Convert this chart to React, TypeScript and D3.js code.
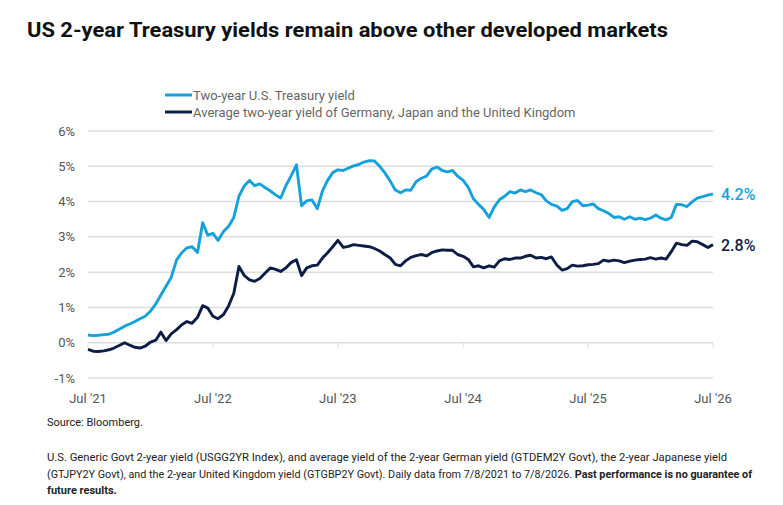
import * as d3 from 'd3'

const W = 783
const H = 505
const margin = { top: 131, right: 70, bottom: 127, left: 88 }
const innerW = W - margin.left - margin.right
const innerH = H - margin.top - margin.bottom

const startDate = new Date(2021, 6, 8)
const endDate = new Date(2026, 6, 8)

// semi-monthly readings, 7/8/2021 .. 7/8/2026
const usYield = [
  0.22, 0.2, 0.21, 0.23, 0.24, 0.3, 0.38, 0.47, 0.53, 0.6,
  0.68, 0.75, 0.9, 1.1, 1.35, 1.6, 1.85, 2.35, 2.55, 2.69,
  2.72, 2.56, 3.4, 3.05, 3.1, 2.9, 3.15, 3.3, 3.55, 4.15,
  4.45, 4.6, 4.45, 4.5, 4.4, 4.3, 4.19, 4.1, 4.45, 4.72,
  5.04, 3.88, 4.02, 4.05, 3.8, 4.3, 4.6, 4.82, 4.9, 4.88,
  4.95, 5.01, 5.05, 5.12, 5.16, 5.15, 5.0, 4.82, 4.58, 4.33,
  4.25, 4.33, 4.32, 4.57, 4.66, 4.72, 4.92, 4.98, 4.88, 4.84,
  4.88, 4.72, 4.6, 4.4, 4.08, 3.92, 3.78, 3.55, 3.85, 4.05,
  4.15, 4.28, 4.24, 4.33, 4.28, 4.33, 4.25, 4.2, 4.02, 3.92,
  3.87, 3.75, 3.8, 4.0, 4.03, 3.88, 3.9, 3.93, 3.8, 3.74,
  3.66, 3.55, 3.57, 3.5, 3.57, 3.5, 3.53, 3.49, 3.53, 3.62,
  3.53, 3.48, 3.55, 3.92, 3.91, 3.86, 3.99, 4.1, 4.14, 4.18,
  4.22,
]

const avgYield = [
  -0.19, -0.24, -0.25, -0.23, -0.2, -0.15, -0.08, 0.0, -0.07, -0.13,
  -0.15, -0.1, 0.02, 0.07, 0.3, 0.06, 0.25, 0.37, 0.51, 0.6,
  0.55, 0.72, 1.05, 0.98, 0.75, 0.68, 0.8, 1.05, 1.4, 2.16,
  1.9, 1.78, 1.74, 1.82, 1.97, 2.12, 2.08, 2.02, 2.12, 2.27,
  2.35, 1.9, 2.12, 2.18, 2.2, 2.4, 2.55, 2.72, 2.9, 2.7,
  2.73, 2.78, 2.76, 2.74, 2.72, 2.67, 2.6, 2.5, 2.4, 2.22,
  2.18, 2.32, 2.42, 2.47, 2.5, 2.46, 2.55, 2.6, 2.63, 2.62,
  2.62, 2.5, 2.45, 2.36, 2.15, 2.18, 2.12, 2.18, 2.14, 2.32,
  2.38, 2.36, 2.4, 2.4, 2.45, 2.48, 2.4, 2.42, 2.38, 2.43,
  2.2, 2.06, 2.1, 2.2, 2.17, 2.18, 2.21, 2.22, 2.24, 2.34,
  2.31, 2.34, 2.32, 2.27, 2.31, 2.34, 2.36, 2.37, 2.41, 2.37,
  2.4, 2.37, 2.58, 2.82, 2.78, 2.76, 2.88, 2.86, 2.78, 2.7,
  2.78,
]

const yTicks = [-1, 0, 1, 2, 3, 4, 5, 6]
const xTickYears = [2021, 2022, 2023, 2024, 2025, 2026]
const xTickLabels = ["Jul '21", "Jul '22", "Jul '23", "Jul '24", "Jul '25", "Jul '26"]
const seriesNames = [
  'Two-year U.S. Treasury yield',
  'Average two-year yield of Germany, Japan and the United Kingdom',
]
const endLabels = ['4.2%', '2.8%']
const colors = ['#16a1dc', '#0d1d45']

const span = d3.timeDay.count(startDate, endDate)
const dates = usYield.map((_, i) =>
  d3.timeDay.offset(startDate, Math.round((i * span) / (usYield.length - 1)))
)

const x = d3.scaleTime().domain([startDate, endDate]).range([0, innerW])
const y = d3.scaleLinear().domain([-1, 6]).range([innerH, 0])

const line = d3
  .line<number>()
  .x((_, i) => x(dates[i]))
  .y((d) => y(d))

const font = 'Roboto, "Liberation Sans", sans-serif'

export default function App() {
  const series = [usYield, avgYield]
  return (
    <svg
      width={W}
      height={H}
      style={{ position: 'absolute', left: 0, top: 0, background: '#fff' }}
      fontFamily={font}
    >
      <text x={27} y={37} fontSize={20} fontWeight={700} fill="#111" textLength={641} lengthAdjust="spacingAndGlyphs">
        US 2-year Treasury yields remain above other developed markets
      </text>

      {seriesNames.map((name, i) => (
        <g key={name} transform={`translate(165, ${95 + i * 17})`}>
          <line x1={0} x2={27} y1={0} y2={0} stroke={colors[i]} strokeWidth={3} />
          <text x={28} y={4.5} fontSize={13} fill="#666">
            {name}
          </text>
        </g>
      ))}

      <g transform={`translate(${margin.left}, ${margin.top})`}>
        {yTicks.map((t) => (
          <g key={t}>
            <line x1={0} x2={innerW} y1={y(t)} y2={y(t)} stroke="#dedede" strokeWidth={1.5} />
            <text x={-13} y={y(t) + 4.5} textAnchor="end" fontSize={13} fill="#555">
              {t}%
            </text>
          </g>
        ))}
        {xTickYears.map((yr, i) => (
          <g key={yr}>
            <line x1={x(new Date(yr, 6, 8))} x2={x(new Date(yr, 6, 8))} y1={y(0)} y2={y(0) + 5} stroke="#dedede" strokeWidth={1} />
            <text x={x(new Date(yr, 6, 8))} y={innerH + 25} textAnchor="middle" fontSize={13} fill="#555">
              {xTickLabels[i]}
            </text>
          </g>
        ))}
        {series.map((s, i) => (
          <path key={i} d={line(s) ?? ''} fill="none" stroke={colors[i]} strokeWidth={2.9} strokeLinejoin="round" />
        ))}
        {series.map((s, i) => (
          <text key={i} x={innerW + 8} y={y(s[s.length - 1]) + 6} fontSize={16} fontWeight={500} fill={colors[i]}>
            {endLabels[i]}
          </text>
        ))}
      </g>

      <g fontSize={11} fill="#222">
        <text x={47} y={426}>Source: Bloomberg.</text>
        <text x={47} y={461} textLength={680} lengthAdjust="spacingAndGlyphs">
          U.S. Generic Govt 2-year yield (USGG2YR Index), and average yield of the 2-year German yield (GTDEM2Y Govt), the 2-year Japanese yield
        </text>
        <text x={47} y={478} textLength={705} lengthAdjust="spacingAndGlyphs">
          (GTJPY2Y Govt), and the 2-year United Kingdom yield (GTGBP2Y Govt). Daily data from 7/8/2021 to 7/8/2026.{' '}
          <tspan fontWeight={700}>Past performance is no guarantee of</tspan>
        </text>
        <text x={47} y={494} fontWeight={700}>
          future results.
        </text>
      </g>
    </svg>
  )
}
